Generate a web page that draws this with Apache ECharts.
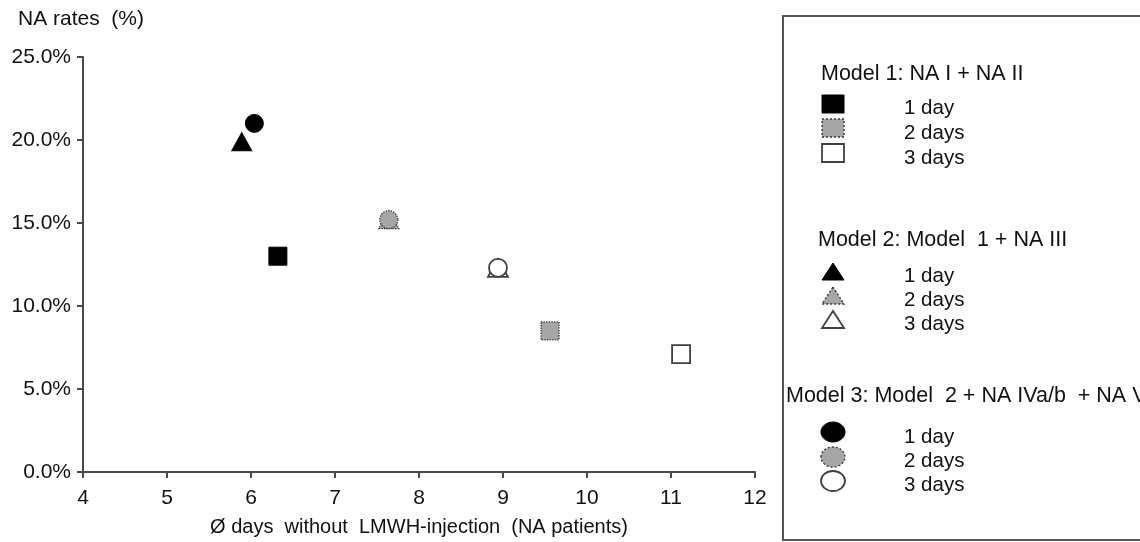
<!DOCTYPE html>
<html>
<head>
<meta charset="utf-8">
<script src="https://cdn.jsdelivr.net/npm/echarts@6/dist/echarts.min.js"></script>
<style>
html,body{margin:0;padding:0;background:#fff;overflow:hidden;}
#c{width:1140px;height:542px;}
</style>
</head>
<body>
<div id="c"></div>
<script>
// ---- data ----
var dayLabels = ['1 day', '2 days', '3 days'];
var modelNames = ['Model 1: NA I + NA II', 'Model 2: Model  1 + NA III', 'Model 3: Model  2 + NA IVa/b  + NA V'];
// Model 1 (squares)
var m1x = [6.32, 9.56, 11.12];
var m1y = [13.0, 8.5, 7.1];
// Model 2 (triangles)
var m2x = [5.89, 7.64, 8.94];
var m2y = [19.9, 15.2, 12.3];
// Model 3 (circles)
var m3x = [6.04, 7.64, 8.94];
var m3y = [21.0, 15.2, 12.3];
var xTicks = [4, 5, 6, 7, 8, 9, 10, 11, 12];
var yTicks = [0, 5, 10, 15, 20, 25];

// ---- styles ----
var FONT = 'Liberation Sans, Arial, sans-serif';
var TXT = '#111111';
var dayStyles = [
  {color: '#000000', borderColor: '#000000', borderWidth: 1, borderType: 'solid'},
  {color: '#a6a6a6', borderColor: '#333333', borderWidth: 1.3, borderType: 'dotted'},
  {color: '#ffffff', borderColor: '#404040', borderWidth: 1.8, borderType: 'solid'}
];

var models = [
  {xs: m1x, ys: m1y, symbol: 'rect', size: 18, z: 3},
  {xs: m2x, ys: m2y, symbol: 'triangle', size: [20, 18], z: 2},
  {xs: m3x, ys: m3y, symbol: 'circle', size: 18, z: 4}
];

var series = [];
models.forEach(function (m, mi) {
  dayLabels.forEach(function (d, di) {
    series.push({
      type: 'scatter',
      name: 'M' + (mi + 1) + ' ' + d,
      symbol: m.symbol,
      symbolSize: m.size,
      z: m.z,
      itemStyle: Object.assign({opacity: 1}, dayStyles[di]),
      emphasis: {disabled: true},
      data: [[m.xs[di], m.ys[di]]]
    });
  });
});

// ---- legend drawn as graphic ----
var g = [];
g.push({type: 'rect', shape: {x: 783, y: 16, width: 400, height: 524},
  style: {fill: 'none', stroke: '#555', lineWidth: 2}, z: 1});
var headerPos = [[821, 74], [818, 240], [786, 396]];
var rowY = [[104, 128, 153], [272, 296, 320], [432, 457, 481]];
var textY = [[108, 133, 158], [276, 300, 324], [437, 461, 485]];
var symX = 833;
modelNames.forEach(function (name, mi) {
  g.push({type: 'text', x: headerPos[mi][0], y: headerPos[mi][1], z: 5,
    style: {text: name, font: '21.5px ' + FONT, fill: TXT, verticalAlign: 'middle', align: 'left'}});
  dayLabels.forEach(function (d, di) {
    var st = dayStyles[di];
    var common = {fill: st.color, stroke: st.borderColor, lineWidth: st.borderWidth,
      lineDash: st.borderType === 'dotted' ? [2, 2] : null};
    var cy = rowY[mi][di];
    if (mi === 0) {
      g.push({type: 'rect', shape: {x: symX - 11, y: cy - 9, width: 22, height: 18}, style: common, z: 5});
    } else if (mi === 1) {
      g.push({type: 'polygon', shape: {points: [[symX, cy - 9], [symX + 11, cy + 8], [symX - 11, cy + 8]]}, style: common, z: 5});
    } else {
      g.push({type: 'ellipse', shape: {cx: symX, cy: cy, rx: 12, ry: 10}, style: common, z: 5});
    }
    g.push({type: 'text', x: 904, y: textY[mi][di], z: 5,
      style: {text: d, font: '20.5px ' + FONT, fill: TXT, verticalAlign: 'middle', align: 'left'}});
  });
});
g.push({type: 'text', x: 18, y: 19, z: 5,
  style: {text: 'NA rates  (%)', font: '21px ' + FONT, fill: TXT, verticalAlign: 'middle', align: 'left'}});

var chart = echarts.init(document.getElementById('c'), null, {renderer: 'canvas', width: 1140, height: 542});
chart.setOption({
  animation: false,
  backgroundColor: '#fff',
  grid: {left: 83, width: 672, top: 57, height: 421, containLabel: false},
  xAxis: {
    type: 'value', min: xTicks[0], max: xTicks[xTicks.length - 1], interval: 1,
    name: 'Ø days  without  LMWH-injection  (NA patients)',
    nameLocation: 'middle', nameGap: 45,
    nameTextStyle: {fontFamily: FONT, fontSize: 20, color: TXT},
    axisLine: {show: true, onZero: false, lineStyle: {color: '#4a4a4a', width: 2}},
    axisTick: {show: true, inside: false, length: 6, lineStyle: {color: '#4a4a4a', width: 2}},
    axisLabel: {fontFamily: FONT, fontSize: 21, color: TXT, margin: 16},
    splitLine: {show: false}
  },
  yAxis: {
    type: 'value', min: yTicks[0], max: yTicks[yTicks.length - 1], interval: 5,
    axisLine: {show: true, onZero: false, lineStyle: {color: '#4a4a4a', width: 2}},
    axisTick: {show: true, inside: false, length: 6, lineStyle: {color: '#4a4a4a', width: 2}},
    axisLabel: {fontFamily: FONT, fontSize: 21, color: TXT, margin: 12,
      formatter: function (v) { return v.toFixed(1) + '%'; }},
    splitLine: {show: false}
  },
  series: series,
  graphic: g
});
</script>
</body>
</html>
